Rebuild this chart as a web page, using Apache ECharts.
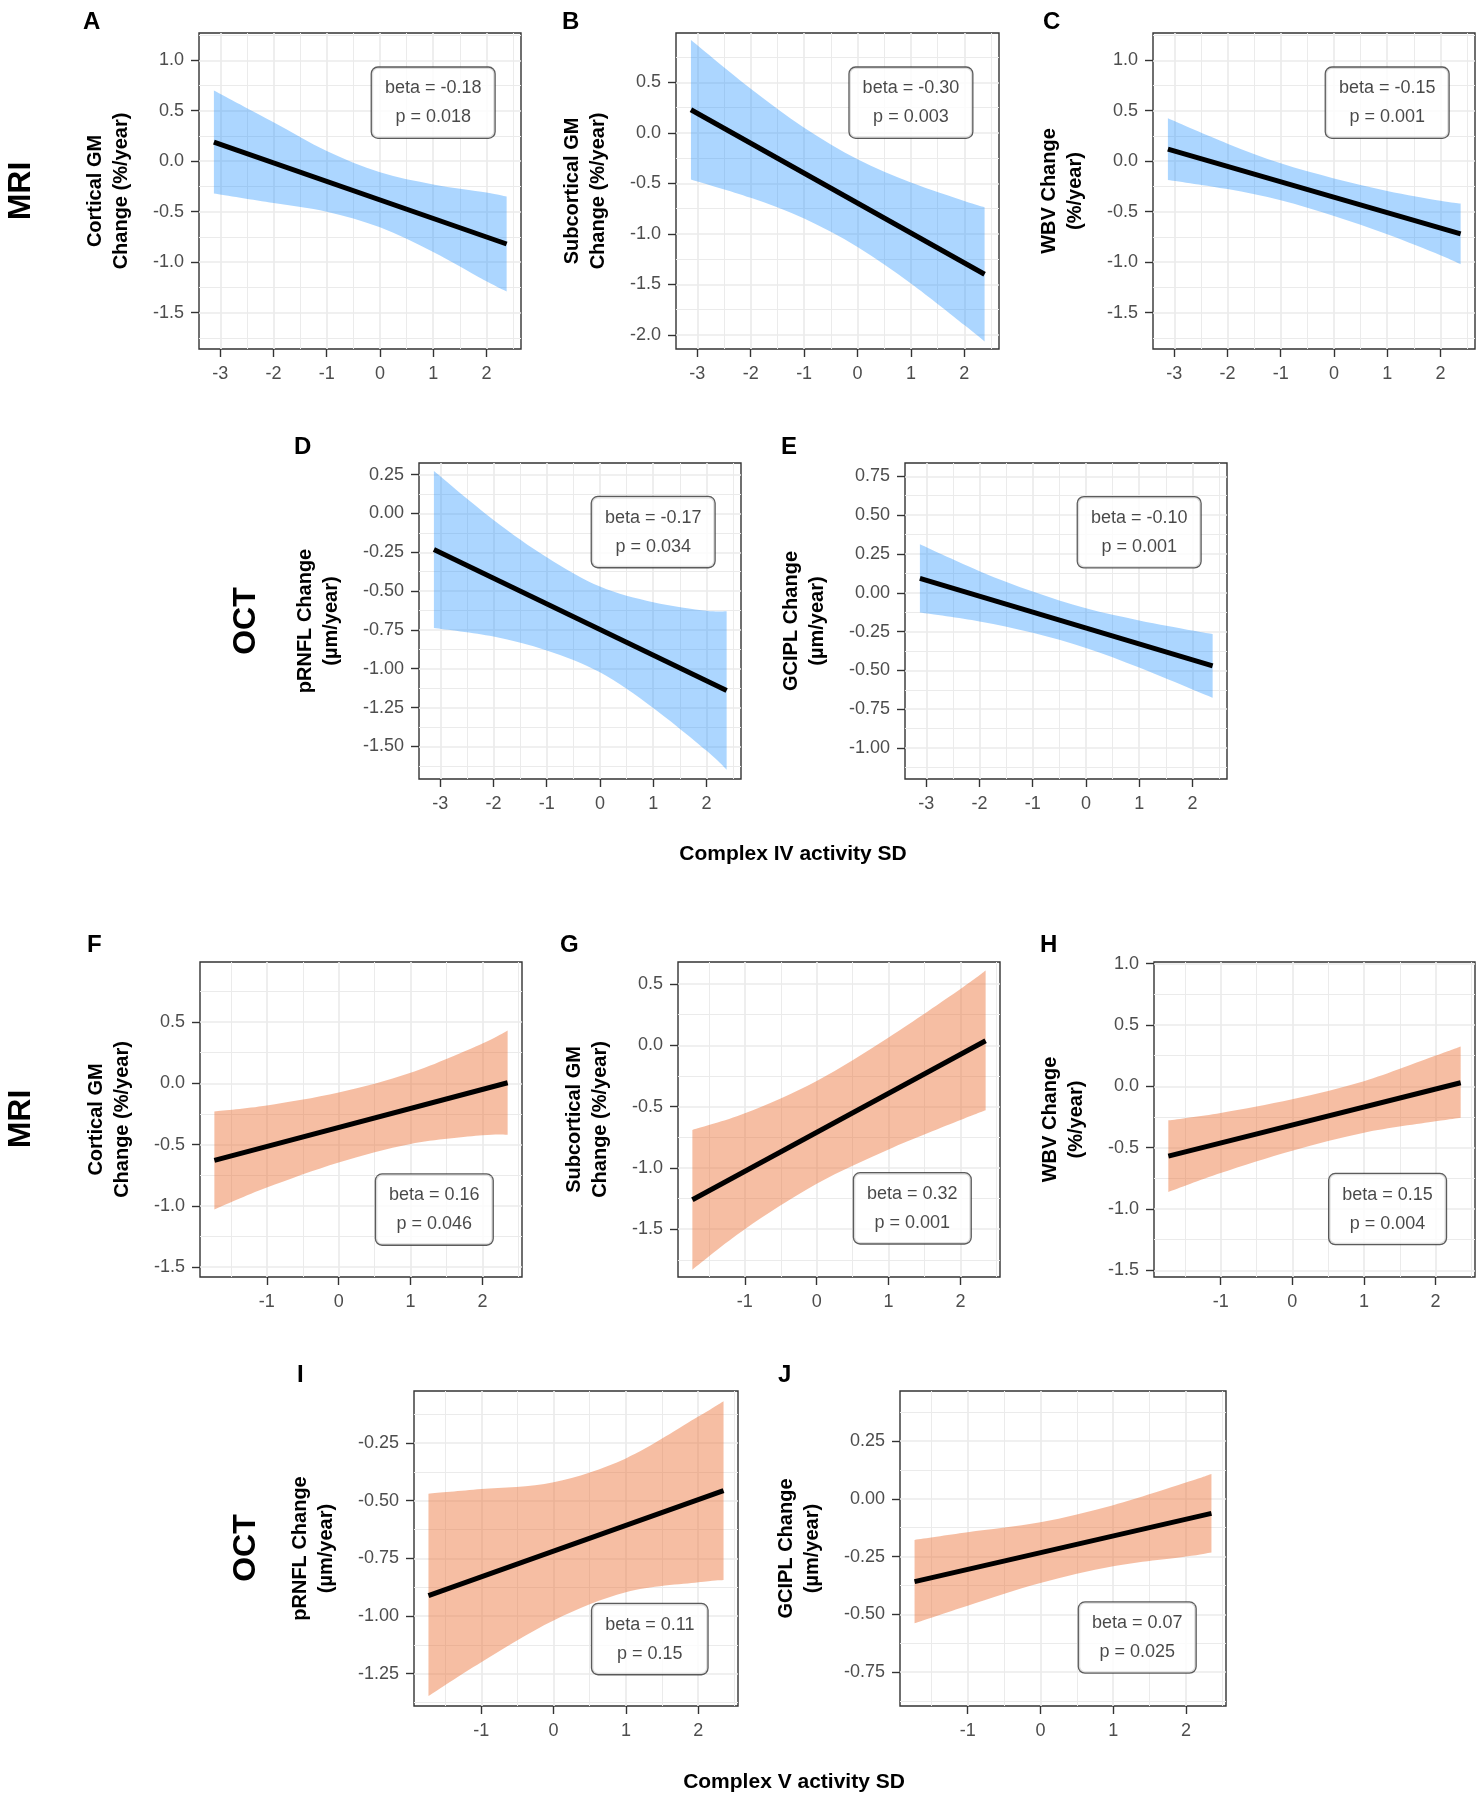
<!DOCTYPE html>
<html><head><meta charset="utf-8">
<script src="https://cdn.jsdelivr.net/npm/echarts@6/dist/echarts.min.js"></script>
<style>html,body{margin:0;padding:0;background:#fff;}#c{width:1482px;height:1800px;}</style>
</head><body><div id="c"></div>
<script>
// ---------------- data ----------------
const xTicksIV = [-3, -2, -1, 0, 1, 2];
const xTicksV = [-1, 0, 1, 2];
const xRangeIV = [-3.40, 2.65];
const xRangeV = [-1.93, 2.55];
const ivBandX = [-3.12, -2, -1, 0, 1, 2, 2.38];
const ivLineX = [-3.12, 2.38];
const vBandX = [-1.73, -1, 0, 1, 2, 2.35];
const vLineX = [-1.73, 2.35];

// A  Cortical GM vs Complex IV
const aUpper = [0.70, 0.385, 0.10, -0.11, -0.23, -0.31, -0.35];
const aLower = [-0.32, -0.415, -0.50, -0.655, -0.90, -1.19, -1.29];
const aLineY = [0.19, -0.82];
const aYRange = [-1.86, 1.27];
const aYTicks = [-1.5, -1.0, -0.5, 0.0, 0.5, 1.0];
const aLabelAt = [1.0, 0.58];
const aStats = ['beta = -0.18', 'p = 0.018'];
// B  Subcortical GM vs Complex IV
const bUpper = [0.92, 0.438, 0.052, -0.26, -0.491, -0.673, -0.735];
const bLower = [-0.46, -0.642, -0.848, -1.13, -1.491, -1.903, -2.065];
const bLineY = [0.23, -1.40];
const bYRange = [-2.14, 0.99];
const bYTicks = [-2.0, -1.5, -1.0, -0.5, 0.0, 0.5];
const bLabelAt = [1.0, 0.30];
const bStats = ['beta = -0.30', 'p = 0.003'];
// C  WBV vs Complex IV
const cUpper = [0.425, 0.174, -0.021, -0.17, -0.294, -0.391, -0.42];
const cLower = [-0.185, -0.276, -0.387, -0.542, -0.724, -0.931, -1.02];
const cLineY = [0.12, -0.72];
const cYRange = [-1.86, 1.27];
const cYTicks = [-1.5, -1.0, -0.5, 0.0, 0.5, 1.0];
const cLabelAt = [1.0, 0.58];
const cStats = ['beta = -0.15', 'p = 0.001'];
// D  pRNFL vs Complex IV
const dUpper = [0.273, -0.042, -0.282, -0.471, -0.572, -0.627, -0.63];
const dLower = [-0.737, -0.792, -0.882, -1.023, -1.252, -1.527, -1.65];
const dLineY = [-0.232, -1.14];
const dYRange = [-1.71, 0.325];
const dYTicks = [-1.5, -1.25, -1.0, -0.75, -0.5, -0.25, 0.0, 0.25];
const dLabelAt = [1.0, -0.12];
const dStats = ['beta = -0.17', 'p = 0.034'];
// E  GCIPL vs Complex IV
const eUpper = [0.312, 0.139, 0.008, -0.10, -0.178, -0.243, -0.266];
const eLower = [-0.128, -0.185, -0.258, -0.356, -0.482, -0.623, -0.676];
const eLineY = [0.092, -0.471];
const eYRange = [-1.20, 0.836];
const eYTicks = [-1.0, -0.75, -0.5, -0.25, 0.0, 0.25, 0.5, 0.75];
const eLabelAt = [1.0, 0.39];
const eStats = ['beta = -0.10', 'p = 0.001'];
// F  Cortical GM vs Complex V
const fUpper = [-0.229, -0.18, -0.075, 0.086, 0.326, 0.431];
const fLower = [-1.029, -0.85, -0.645, -0.494, -0.424, -0.419];
const fLineY = [-0.629, 0.005];
const fYRange = [-1.58, 0.99];
const fYTicks = [-1.5, -1.0, -0.5, 0.0, 0.5];
const fLabelAt = [1.33, -1.03];
const fStats = ['beta = 0.16', 'p = 0.046'];
// G  Subcortical GM vs Complex V
const gUpper = [-0.69, -0.555, -0.29, 0.065, 0.46, 0.61];
const gLower = [-1.83, -1.50, -1.13, -0.85, -0.61, -0.53];
const gLineY = [-1.26, 0.038];
const gYRange = [-1.89, 0.68];
const gYTicks = [-1.5, -1.0, -0.5, 0.0, 0.5];
const gLabelAt = [1.33, -1.33];
const gStats = ['beta = 0.32', 'p = 0.001'];
// H  WBV vs Complex V
const hUpper = [-0.277, -0.216, -0.104, 0.042, 0.251, 0.326];
const hLower = [-0.861, -0.706, -0.524, -0.378, -0.285, -0.255];
const hLineY = [-0.568, 0.03];
const hYRange = [-1.554, 1.014];
const hYTicks = [-1.5, -1.0, -0.5, 0.0, 0.5, 1.0];
const hLabelAt = [1.33, -1.0];
const hStats = ['beta = 0.15', 'p = 0.004'];
// I  pRNFL vs Complex V
const iUpper = [-0.47, -0.45, -0.42, -0.317, -0.136, -0.069];
const iLower = [-1.347, -1.20, -1.019, -0.897, -0.854, -0.844];
const iLineY = [-0.912, -0.457];
const iYRange = [-1.39, -0.025];
const iYTicks = [-1.25, -1.0, -0.75, -0.5, -0.25];
const iLabelAt = [1.33, -1.10];
const iStats = ['beta = 0.11', 'p = 0.15'];
// J  GCIPL vs Complex V
const jUpper = [-0.178, -0.145, -0.102, -0.028, 0.07, 0.107];
const jLower = [-0.538, -0.462, -0.364, -0.292, -0.25, -0.232];
const jLineY = [-0.358, -0.063];
const jYRange = [-0.896, 0.466];
const jYTicks = [-0.75, -0.5, -0.25, 0.0, 0.25];
const jLabelAt = [1.33, -0.60];
const jStats = ['beta = 0.07', 'p = 0.025'];

const nameCort = 'Cortical GM\nChange (%/year)';
const nameSub = 'Subcortical GM\nChange (%/year)';
const nameWBV = 'WBV Change\n(%/year)';
const namePRNFL = 'pRNFL Change\n(µm/year)';
const nameGCIPL = 'GCIPL Change\n(µm/year)';

// ---------------- layout / style ----------------
const FONT = '"Liberation Sans", Arial, Helvetica, sans-serif';
const BLUE = 'rgba(30,144,255,0.37)';
const ORANGE = 'rgba(235,110,50,0.45)';
const GRID_MAJOR = '#EBEBEB';
const DARK = '#333333';

const panels = [
  {box:[199,33,322,316], xr:xRangeIV, xt:xTicksIV, bx:ivBandX, up:aUpper, lo:aLower, lx:ivLineX, ly:aLineY, yr:aYRange, yt:aYTicks, dec:1, lab:aLabelAt, st:aStats, name:nameCort, fill:BLUE},
  {box:[676,33,323,316], xr:xRangeIV, xt:xTicksIV, bx:ivBandX, up:bUpper, lo:bLower, lx:ivLineX, ly:bLineY, yr:bYRange, yt:bYTicks, dec:1, lab:bLabelAt, st:bStats, name:nameSub, fill:BLUE},
  {box:[1153,33,322,316], xr:xRangeIV, xt:xTicksIV, bx:ivBandX, up:cUpper, lo:cLower, lx:ivLineX, ly:cLineY, yr:cYRange, yt:cYTicks, dec:1, lab:cLabelAt, st:cStats, name:nameWBV, fill:BLUE},
  {box:[419,463,322,316], xr:xRangeIV, xt:xTicksIV, bx:ivBandX, up:dUpper, lo:dLower, lx:ivLineX, ly:dLineY, yr:dYRange, yt:dYTicks, dec:2, lab:dLabelAt, st:dStats, name:namePRNFL, fill:BLUE},
  {box:[905,463,322,316], xr:xRangeIV, xt:xTicksIV, bx:ivBandX, up:eUpper, lo:eLower, lx:ivLineX, ly:eLineY, yr:eYRange, yt:eYTicks, dec:2, lab:eLabelAt, st:eStats, name:nameGCIPL, fill:BLUE},
  {box:[200,962,322,315], xr:xRangeV, xt:xTicksV, bx:vBandX, up:fUpper, lo:fLower, lx:vLineX, ly:fLineY, yr:fYRange, yt:fYTicks, dec:1, lab:fLabelAt, st:fStats, name:nameCort, fill:ORANGE},
  {box:[678,962,322,315], xr:xRangeV, xt:xTicksV, bx:vBandX, up:gUpper, lo:gLower, lx:vLineX, ly:gLineY, yr:gYRange, yt:gYTicks, dec:1, lab:gLabelAt, st:gStats, name:nameSub, fill:ORANGE},
  {box:[1154,962,321,315], xr:xRangeV, xt:xTicksV, bx:vBandX, up:hUpper, lo:hLower, lx:vLineX, ly:hLineY, yr:hYRange, yt:hYTicks, dec:1, lab:hLabelAt, st:hStats, name:nameWBV, fill:ORANGE},
  {box:[414,1391,324,315], xr:xRangeV, xt:xTicksV, bx:vBandX, up:iUpper, lo:iLower, lx:vLineX, ly:iLineY, yr:iYRange, yt:iYTicks, dec:2, lab:iLabelAt, st:iStats, name:namePRNFL, fill:ORANGE},
  {box:[900,1391,326,315], xr:xRangeV, xt:xTicksV, bx:vBandX, up:jUpper, lo:jLower, lx:vLineX, ly:jLineY, yr:jYRange, yt:jYTicks, dec:2, lab:jLabelAt, st:jStats, name:nameGCIPL, fill:ORANGE}
];

function minorOf(ticks, range) {
  const step = ticks[1] - ticks[0];
  const out = [ticks[0] - step / 2].concat(ticks.map(t => t + step / 2));
  return out.filter(v => v > range[0] && v < range[1]);
}

// smooth edge through pixel points (Catmull-Rom as cubic Bezier)
function curveThrough(P) {
  let s = '';
  for (let i = 0; i < P.length - 1; i++) {
    const p0 = P[i - 1] || P[i], p1 = P[i], p2 = P[i + 1], p3 = P[i + 2] || P[i + 1];
    const t = 1 / 6;
    const c1 = [p1[0] + (p2[0] - p0[0]) * t, p1[1] + (p2[1] - p0[1]) * t];
    const c2 = [p2[0] - (p3[0] - p1[0]) * t, p2[1] - (p3[1] - p1[1]) * t];
    s += ' C' + c1[0] + ',' + c1[1] + ' ' + c2[0] + ',' + c2[1] + ' ' + p2[0] + ',' + p2[1];
  }
  return s;
}
function bandRenderer(p) {
  return function (params, api) {
    const U = p.bx.map((x, k) => api.coord([x, p.up[k]]));
    const L = p.bx.map((x, k) => api.coord([x, p.lo[k]])).reverse();
    const d = 'M' + U[0][0] + ',' + U[0][1] + curveThrough(U) +
      ' L' + L[0][0] + ',' + L[0][1] + curveThrough(L) + ' Z';
    return {type: 'path', shape: {pathData: d}, style: {fill: p.fill, stroke: null}, silent: true};
  };
}

const option = {
  animation: false,
  backgroundColor: '#fff',
  textStyle: {fontFamily: FONT},
  grid: [], xAxis: [], yAxis: [], series: [], graphic: []
};

panels.forEach((p, i) => {
  option.grid.push({left: p.box[0], top: p.box[1], width: p.box[2], height: p.box[3],
    show: true, borderColor: DARK, borderWidth: 1.4, backgroundColor: 'rgba(0,0,0,0)', containLabel: false});
  const xi = option.xAxis.length, yi = option.yAxis.length;
  const labelStyle = {fontSize: 18, color: '#4D4D4D', fontFamily: FONT};
  option.xAxis.push({type: 'value', gridIndex: i, min: p.xr[0], max: p.xr[1], position: 'bottom',
    axisLine: {show: false, onZero: false},
    axisTick: {show: true, length: 8, lineStyle: {color: DARK, width: 1.4}, customValues: p.xt},
    axisLabel: Object.assign({show: true, margin: 16, customValues: p.xt, formatter: v => String(v)}, labelStyle),
    splitLine: {show: true, lineStyle: {color: GRID_MAJOR, width: 1.7}}});
  option.xAxis.push({type: 'value', gridIndex: i, min: p.xr[0], max: p.xr[1], position: 'top',
    axisLine: {show: false, onZero: false}, axisTick: {show: false, customValues: minorOf(p.xt, p.xr)}, axisLabel: {show: false},
    splitLine: {show: true, lineStyle: {color: GRID_MAJOR, width: 1}}});
  option.yAxis.push({type: 'value', gridIndex: i, min: p.yr[0], max: p.yr[1], position: 'left',
    name: p.name, nameLocation: 'middle', nameRotate: 90, nameGap: p.dec === 2 ? 75 : 65,
    nameTextStyle: {fontSize: 20, fontWeight: 'bold', color: '#000', lineHeight: 26, fontFamily: FONT},
    axisLine: {show: false, onZero: false},
    axisTick: {show: true, length: 8, lineStyle: {color: DARK, width: 1.4}, customValues: p.yt},
    axisLabel: Object.assign({show: true, margin: 15, customValues: p.yt, formatter: v => v.toFixed(p.dec)}, labelStyle),
    splitLine: {show: true, lineStyle: {color: GRID_MAJOR, width: 1.7}}});
  option.yAxis.push({type: 'value', gridIndex: i, min: p.yr[0], max: p.yr[1], position: 'right',
    axisLine: {show: false, onZero: false}, axisTick: {show: false, customValues: minorOf(p.yt, p.yr)}, axisLabel: {show: false},
    splitLine: {show: true, lineStyle: {color: GRID_MAJOR, width: 1}}});

  // confidence band
  option.series.push({type: 'custom', xAxisIndex: xi, yAxisIndex: yi, coordinateSystem: 'cartesian2d',
    data: [[p.bx[0], p.lo[0]]], renderItem: bandRenderer(p), silent: true, z: 2, clip: true});
  // regression line
  option.series.push({type: 'line', xAxisIndex: xi, yAxisIndex: yi,
    data: p.lx.map((x, k) => [x, p.ly[k]]), symbol: 'none',
    lineStyle: {color: '#000', width: 5}, silent: true, z: 4});
  // stats label
  option.series.push({type: 'scatter', xAxisIndex: xi, yAxisIndex: yi, data: [p.lab], symbolSize: 1,
    itemStyle: {color: 'rgba(0,0,0,0)'}, silent: true, z: 6,
    label: {show: true, position: 'inside', formatter: p.st.join('\n'), fontSize: 18, lineHeight: 29,
      color: '#1A1A1A', fontFamily: FONT, backgroundColor: '#fff', borderColor: DARK, borderWidth: 1.3,
      borderRadius: 6, padding: [6, 13], align: 'center'}});
});

const texts = [
  {t: 'A', x: 83, y: 22, s: 24}, {t: 'B', x: 562, y: 22, s: 24}, {t: 'C', x: 1043, y: 22, s: 24},
  {t: 'D', x: 294, y: 447, s: 24}, {t: 'E', x: 781, y: 447, s: 24},
  {t: 'F', x: 87, y: 945, s: 24}, {t: 'G', x: 560, y: 945, s: 24}, {t: 'H', x: 1040, y: 945, s: 24},
  {t: 'I', x: 297, y: 1375, s: 24}, {t: 'J', x: 778, y: 1375, s: 24},
  {t: 'MRI', x: 21, y: 191, s: 32, r: 1, c: 1}, {t: 'OCT', x: 246, y: 621, s: 32, r: 1, c: 1},
  {t: 'MRI', x: 21, y: 1119, s: 32, r: 1, c: 1}, {t: 'OCT', x: 246, y: 1548, s: 32, r: 1, c: 1},
  {t: 'Complex IV activity SD', x: 793, y: 854, s: 21, c: 1},
  {t: 'Complex V activity SD', x: 794, y: 1782, s: 21, c: 1}
];
option.graphic = texts.map(o => ({type: 'text', x: o.x, y: o.y, rotation: o.r ? Math.PI / 2 : 0, silent: true,
  style: {text: o.t, fill: '#000', font: 'bold ' + o.s + 'px ' + FONT,
    align: o.c ? 'center' : 'left', verticalAlign: 'middle'}}));

const chart = echarts.init(document.getElementById('c'), null, {renderer: 'canvas'});
chart.setOption(option);
</script></body></html>
